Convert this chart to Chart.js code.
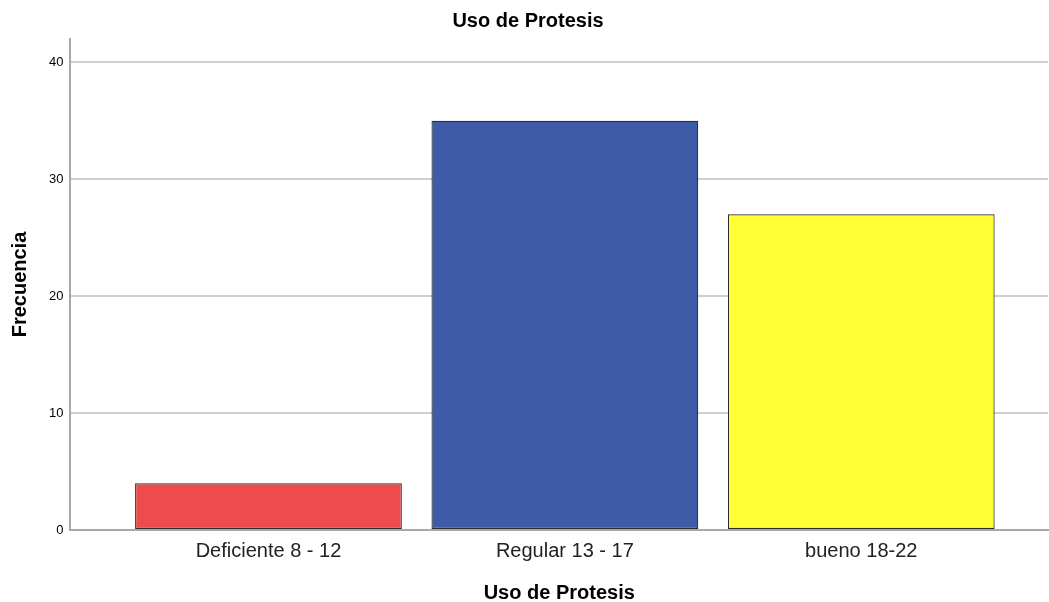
<!DOCTYPE html>
<html>
<head>
<meta charset="utf-8">
<script src="https://cdn.jsdelivr.net/npm/chart.js@4.4.1/dist/chart.umd.min.js"></script>
<style>
  html, body { margin: 0; padding: 0; background: #fff; }
  #wrap { width: 1049px; height: 602px; }
</style>
</head>
<body>
<div id="wrap"><canvas id="usoChart" width="1049" height="602"></canvas></div>
<script>
// datos
const categorias = ['Deficiente 8 - 12', 'Regular 13 - 17', 'bueno 18-22'];
const frecuencias = [4, 35, 27];
const coloresBarra = ['#ED4B4C', '#3E5BA8', '#FFFF33'];
const ticksY = [0, 10, 20, 30, 40];

const ctx = document.getElementById('usoChart');

const puntos = frecuencias.map((v, i) => ({ x: i, y: v }));
const fuente = 'Liberation Sans, Arial, sans-serif';

new Chart(ctx, {
    type: 'bar',
    data: {
        datasets: [{
            label: 'Frecuencia',
            data: puntos,
            backgroundColor: coloresBarra,
            borderColor: '#2A2A2A',
            borderWidth: 1.2,
            borderSkipped: false,
            barPercentage: 0.9,
            categoryPercentage: 1.0
        }]
    },
    options: {
        responsive: false,
        animation: false,
        layout: { padding: { left: 8, right: 1, top: 0, bottom: -3 } },
        plugins: {
            legend: { display: false },
            tooltip: { enabled: false },
            title: {
                display: true,
                text: 'Uso de Protesis',
                color: '#000',
                font: { family: fuente, size: 20, weight: 'bold' },
                padding: { top: 9, bottom: 6 }
            }
        },
        scales: {
            x: {
                type: 'linear',
                offset: false,
                min: -0.668,
                max: 2.63,
                afterBuildTicks: scale => {
                    scale.ticks = categorias.map((c, i) => ({ value: i }));
                },
                ticks: {
                    color: '#222',
                    font: { family: fuente, size: 20 },
                    padding: 9,
                    maxRotation: 0,
                    callback: v => categorias[v]
                },
                grid: { display: false, drawTicks: false },
                border: { color: '#A8A8A8', width: 2 },
                title: {
                    display: true,
                    text: 'Uso de Protesis',
                    color: '#000',
                    font: { family: fuente, size: 20, weight: 'bold' },
                    padding: { top: 9, bottom: 0 }
                }
            },
            y: {
                min: 0,
                max: 42,
                afterBuildTicks: scale => {
                    scale.ticks = ticksY.map(v => ({ value: v }));
                },
                ticks: {
                    color: '#000',
                    font: { family: fuente, size: 13 },
                    padding: 7
                },
                grid: {
                    color: c => c.tick && c.tick.value === 0 ? 'rgba(0,0,0,0)' : '#CFCFCF',
                    lineWidth: 2,
                    drawTicks: false
                },
                border: { color: '#A8A8A8', width: 2 },
                title: {
                    display: true,
                    text: 'Frecuencia',
                    color: '#000',
                    font: { family: fuente, size: 20, weight: 'bold' },
                    padding: { top: 0, bottom: 10 }
                }
            }
        }
    }
});
</script>
</body>
</html>
